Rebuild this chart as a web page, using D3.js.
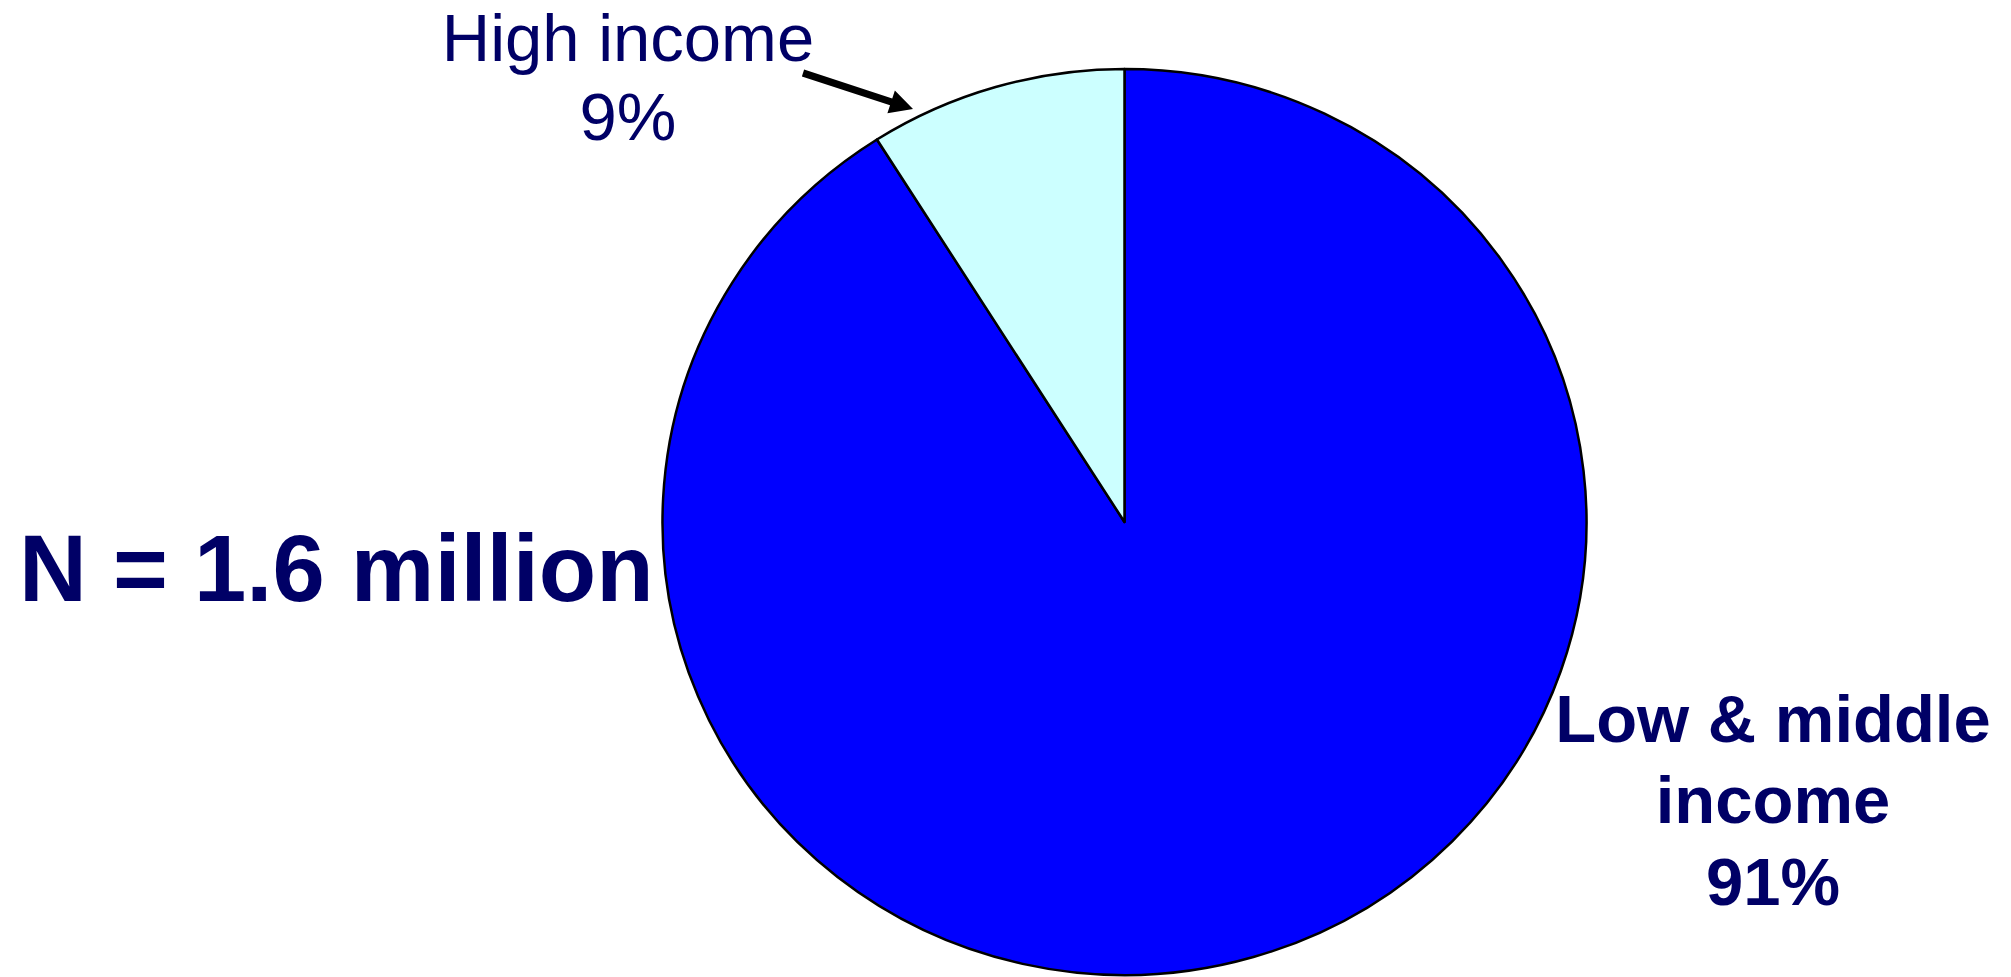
<!DOCTYPE html>
<html>
<head>
<meta charset="utf-8">
<script src="https://cdn.jsdelivr.net/npm/d3@7"></script>
<style>
  html, body { margin: 0; padding: 0; background: #fff; }
  svg { display: block; }
  text { font-family: Arial, "Liberation Sans", sans-serif; fill: #000066; }
</style>
</head>
<body>
<div id="chart"></div>
<script>
// datos del pie
var categories = ['Low & middle income', 'High income'];
var values = [91, 9];
var colors = ['#0000ff', '#ccffff'];
var total_label = 'N = 1.6 million';

var width = 2011,
	height = 977;

var cx = 1124.5,
	cy = 522,
	rx = 462,
	ry = 453;

var svg = d3.select('#chart')
	.append('svg')
	.attr('width', width)
	.attr('height', height);

var pie = d3.pie()
	.sort(null)
	.value(function(d) { return d; });

var arc = d3.arc()
	.innerRadius(0)
	.outerRadius(rx);

var color_scale = d3.scaleOrdinal()
	.domain(categories)
	.range(colors);

var g = svg.append('g')
	.attr('transform', 'translate(' + cx + ',' + cy + ') scale(1,' + (ry / rx) + ')');

g.selectAll('path')
	.data(pie(values))
	.enter()
	.append('path')
		.attr('d', arc)
		.attr('fill', function(d, i) { return color_scale(categories[i]); })
		.attr('stroke', 'black')
		.attr('stroke-width', 2.5)
		.attr('stroke-linejoin', 'round');

// etiqueta high income
var hi = svg.append('text')
	.attr('text-anchor', 'middle')
	.style('font-size', '67px');
hi.append('tspan').attr('x', 628).attr('y', 61).text('High income');
hi.append('tspan').attr('x', 628).attr('y', 140).text(values[1] + '%');

// flecha (cola y punta)
var tail = [803, 73],
	tip = [913, 109];
var dx = tip[0] - tail[0], dy = tip[1] - tail[1];
var len = Math.sqrt(dx * dx + dy * dy);
var ux = dx / len, uy = dy / len, nx = -uy, ny = ux;
var head_len = 23, head_w = 12, shaft_w = 3.6;
var bx = tip[0] - ux * head_len, by = tip[1] - uy * head_len;
var pts = [
	[tail[0] + nx * shaft_w, tail[1] + ny * shaft_w],
	[bx + nx * shaft_w, by + ny * shaft_w],
	[bx + nx * head_w, by + ny * head_w],
	tip,
	[bx - nx * head_w, by - ny * head_w],
	[bx - nx * shaft_w, by - ny * shaft_w],
	[tail[0] - nx * shaft_w, tail[1] - ny * shaft_w]
];
svg.append('path')
	.attr('d', d3.line()(pts) + 'Z')
	.attr('fill', 'black');

// etiqueta low & middle
var lo = svg.append('text')
	.attr('text-anchor', 'middle')
	.style('font-size', '67px')
	.style('font-weight', 'bold');
lo.append('tspan').attr('x', 1773).attr('y', 742).text('Low & middle');
lo.append('tspan').attr('x', 1773).attr('y', 823).text('income');
lo.append('tspan').attr('x', 1773).attr('y', 905).text(values[0] + '%');

// total
svg.append('text')
	.attr('x', 19)
	.attr('y', 601)
	.style('font-size', '94px')
	.style('font-weight', 'bold')
	.text(total_label);
</script>
</body>
</html>
